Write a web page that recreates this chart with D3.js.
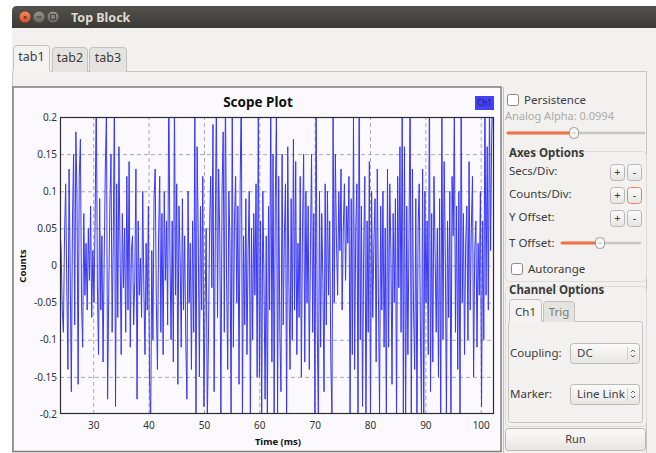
<!DOCTYPE html>
<html>
<head>
<meta charset="utf-8">
<script src="https://cdn.jsdelivr.net/npm/d3@7"></script>
<style>
  body { margin: 0; background: #fff; }
  svg { display: block; font-family: "Noto Sans", sans-serif; }
</style>
</head>
<body>
<div id="chart"></div>
<script>
// scope plot GNU Radio - finestra "Top Block" con pannello di controllo a destra

const titoloFinestra = 'Top Block';
const schede = ['tab1', 'tab2', 'tab3'];
const titolo = 'Scope Plot';
const etichettaX = 'Time (ms)';
const etichettaY = 'Counts';
const canali = ['Ch1'];
const tickX = [30, 40, 50, 60, 70, 80, 90, 100];
const tickY = [0.2, 0.15, 0.1, 0.05, 0, -0.05, -0.1, -0.15, -0.2];
const dominioX = [24.0, 102.4];
const dominioY = [-0.2, 0.2];
const tInizio = 24.0;      // ms, primo campione visibile
const passo = 0.2047;      // ms tra due campioni

// campioni letti a occhio dal grafico (valori oltre ±0.2 vengono tagliati)
const campioni = [
  0.05, 0.02, -0.06, -0.09, 0.04, 0.11, -0.03, -0.14, 0.13, -0.01, -0.17, 0.06, 0.15, -0.08, 0.18, 0.09,
  -0.16, 0.12, 0.17, -0.05, -0.11, 0.07, -0.04, 0.03, -0.06, 0.05, -0.02, 0.08, -0.07, 0.02, -0.05, 0.06,
  0.24, -0.03, -0.12, 0.09, -0.06, 0.04, -0.13, 0.01, 0.13, 0.21, -0.18, -0.04, 0.08, 0.15, -0.09, 0.03,
  0.23, -0.19, 0.11, -0.07, 0.16, 0.02, -0.12, 0.07, -0.03, 0.05, -0.09, 0.12, -0.06, 0.14, -0.11, 0.02,
  0.04, -0.08, -0.02, 0.13, -0.18, 0.06, -0.04, 0.01, -0.07, 0.10, -0.03, -0.12, 0.03, -0.06, 0.08, -0.15,
  -0.22, 0.02, -0.10, 0.09, 0.13, -0.05, -0.14, 0.04, 0.12, -0.09, 0.07, -0.12, 0.10, -0.02, 0.06, -0.08,
  0.25, 0.02, -0.10, 0.06, -0.13, 0.22, -0.04, 0.11, -0.16, 0.08, 0.01, -0.11, 0.09, -0.06, 0.04, -0.10,
  -0.18, 0.10, -0.05, 0.03, -0.14, 0.06, -0.09, 0.21, -0.21, 0.16, 0.04, -0.15, 0.08, -0.06, 0.12, -0.19,
  -0.06, 0.05, -0.21, -0.10, 0.05, 0.12, -0.03, 0.19, -0.17, 0.03, 0.23, -0.07, 0.13, 0.04, -0.20, 0.10,
  0.18, -0.09, 0.24, -0.02, -0.14, 0.10, 0.03, -0.21, 0.22, -0.11, 0.06, 0.12, -0.05, 0.08, -0.16, 0.11,
  0.24, -0.21, 0.04, -0.08, 0.09, -0.12, 0.02, 0.10, -0.20, 0.05, -0.10, 0.07, -0.04, 0.11, -0.15, 0.22,
  -0.15, 0.06, -0.21, 0.10, -0.02, -0.18, 0.04, -0.21, 0.08, -0.06, 0.23, -0.13, 0.15, -0.21, 0.09, 0.21,
  -0.20, 0.12, -0.09, -0.17, 0.15, -0.08, 0.04, 0.11, -0.21, 0.16, -0.03, -0.14, 0.09, -0.10, 0.17, -0.06,
  0.14, -0.12, 0.03, -0.07, 0.12, -0.15, 0.05, 0.15, -0.13, 0.10, -0.05, 0.08, -0.14, 0.02, 0.15, -0.09,
  0.07, -0.20, 0.23, -0.08, -0.21, 0.10, -0.11, 0.07, -0.02, -0.17, 0.11, -0.08, 0.10, -0.04, 0.06, -0.13,
  -0.20, 0.20, -0.05, 0.15, 0.03, -0.04, 0.10, 0.02, 0.13, -0.06, 0.05, 0.11, -0.02, 0.08, 0.03, 0.12,
  -0.20, 0.09, -0.12, 0.20, -0.14, 0.05, 0.11, -0.21, 0.24, -0.10, 0.08, -0.19, 0.02, 0.12, -0.21, 0.06,
  -0.09, 0.14, -0.21, 0.10, -0.07, 0.03, 0.09, -0.13, 0.13, -0.04, -0.20, 0.08, -0.06, 0.10, -0.11, 0.05,
  -0.21, 0.13, -0.11, 0.11, 0.02, -0.16, 0.07, -0.05, 0.09, -0.21, 0.12, -0.03, 0.16, -0.09, 0.23, -0.20,
  0.16, -0.22, 0.08, -0.12, 0.04, 0.24, -0.21, 0.13, -0.06, -0.14, 0.09, -0.21, 0.05, 0.11, -0.08, -0.20,
  0.13, -0.21, 0.10, -0.05, 0.06, -0.12, 0.25, -0.17, 0.07, -0.13, 0.12, 0.02, -0.09, 0.05, -0.15, 0.09,
  -0.21, 0.21, -0.10, 0.14, 0.02, -0.20, 0.06, -0.07, 0.10, -0.21, 0.12, 0.04, 0.21, -0.09, 0.08, -0.14,
  0.10, -0.21, 0.22, -0.05, 0.07, -0.12, 0.03, 0.08, -0.10, 0.14, -0.06, 0.05, 0.12, -0.15, 0.02, 0.06,
  -0.11, 0.03, -0.04, 0.10, -0.19, 0.06, -0.10, 0.24, -0.04, 0.16, -0.06, 0.22, 0.02, 0.18, 0.24, 0.12
];

// testi del pannello di controllo
const testoPersistenza = 'Persistence';
const testoAlpha = 'Analog Alpha: 0.0994';
const gruppoAssi = 'Axes Options';
const righeAssi = ['Secs/Div:', 'Counts/Div:', 'Y Offset:'];
const testoTOffset = 'T Offset:';
const testoAutorange = 'Autorange';
const gruppoCanali = 'Channel Options';
const schedeCanali = ['Ch1', 'Trig'];
const combo = [{ label: 'Coupling:', valore: 'DC' }, { label: 'Marker:', valore: 'Line Link' }];
const testoRun = 'Run';

const W = 656, H = 453;
const svg = d3.select('#chart').append('svg').attr('width', W).attr('height', H);
const defs = svg.append('defs');

const grad = (id, c1, c2) => {
    const g = defs.append('linearGradient').attr('id', id).attr('x1', 0).attr('x2', 0).attr('y1', 0).attr('y2', 1);
    g.append('stop').attr('offset', '0%').attr('stop-color', c1);
    g.append('stop').attr('offset', '100%').attr('stop-color', c2);
};
grad('barra', '#53524d', '#3b3a36');
grad('bottone', '#fbfbfa', '#e7e5e2');
grad('chiudi', '#f58a5e', '#df4f22');
grad('grigio', '#96948e', '#68665f');

// ---- finestra e barra del titolo ----
svg.append('rect').attr('x', 12).attr('y', 28).attr('width', W - 12).attr('height', H - 28).attr('fill', '#f2f1ef');
svg.append('path')
    .attr('d', `M12,28 V11 Q12,6 17,6 H${W} V28 Z`)
    .attr('fill', 'url(#barra)');
svg.append('circle').attr('cx', 25).attr('cy', 17).attr('r', 5.5).attr('fill', 'url(#chiudi)');
svg.append('text').attr('x', 25).attr('y', 19.5).attr('text-anchor', 'middle')
    .style('font-size', '7px').style('font-weight', 700).style('fill', '#5a2010').text('×');
[39, 53].forEach((cx, i) => {
    svg.append('circle').attr('cx', cx).attr('cy', 17).attr('r', 5.5).attr('fill', 'url(#grigio)');
    if (i === 0) {
        svg.append('line').attr('x1', cx - 2.5).attr('x2', cx + 2.5).attr('y1', 17).attr('y2', 17)
            .attr('stroke', '#3c3b37').attr('stroke-width', 1);
    } else {
        svg.append('rect').attr('x', cx - 2.5).attr('y', 14.5).attr('width', 5).attr('height', 5)
            .attr('fill', 'none').attr('stroke', '#3c3b37').attr('stroke-width', 0.8);
    }
});
svg.append('text').attr('x', 71).attr('y', 22)
    .style('font-size', '12.5px').style('font-weight', 700).style('fill', '#dfdbd2')
    .text(titoloFinestra);

// ---- schede in alto ----
svg.append('rect').attr('x', 12.5).attr('y', 71.5).attr('width', 634).attr('height', 400)
    .attr('fill', '#f2f1ef').attr('stroke', '#c9c6c1');
const posSchede = [[13, 50], [52, 88], [89, 127]];
schede.forEach((s, i) => {
    const [x1, x2] = posSchede[i];
    const attiva = i === 0;
    const y1 = attiva ? 45.5 : 47.5;
    svg.append('path')
        .attr('d', `M${x1 + 0.5},72 V${y1 + 3} Q${x1 + 0.5},${y1} ${x1 + 3.5},${y1} H${x2 - 3.5} Q${x2 - 0.5},${y1} ${x2 - 0.5},${y1 + 3} V72`)
        .attr('fill', attiva ? '#f4f3f1' : '#e5e3df')
        .attr('stroke', '#c4c1bc');
    svg.append('text').attr('x', (x1 + x2) / 2).attr('y', attiva ? 61 : 62).attr('text-anchor', 'middle')
        .style('font-size', '12.5px').style('fill', '#3c3c3c').text(s);
});
svg.append('line').attr('x1', 13).attr('x2', 50).attr('y1', 71.5).attr('y2', 71.5).attr('stroke', '#f4f3f1').attr('stroke-width', 1.5);

// ---- widget del grafico ----
svg.append('rect').attr('x', 13).attr('y', 87).attr('width', 488).attr('height', 364.5)
    .attr('fill', '#fbf9fd').attr('stroke', '#7f7d79').attr('stroke-width', 1.5);

const margin = { top: 117, left: 60, right: 494, bottom: 414 };
const x = d3.scaleLinear().domain(dominioX).range([margin.left, margin.right]);
const y = d3.scaleLinear().domain(dominioY).range([margin.bottom, margin.top]);

const plot = svg.append('g');

// griglia tratteggiata
plot.append('g')
    .attr('transform', `translate(0,${margin.bottom})`)
    .call(d3.axisBottom(x).tickValues(tickX).tickSize(-(margin.bottom - margin.top)).tickFormat(''))
    .call(g => g.select('.domain').remove())
    .call(g => g.selectAll('line').attr('stroke', '#a9a7ab').attr('stroke-dasharray', '4,3'));
plot.append('g')
    .attr('transform', `translate(${margin.left},0)`)
    .call(d3.axisLeft(y).tickValues(tickY.slice(1, -1)).tickSize(-(margin.right - margin.left)).tickFormat(''))
    .call(g => g.select('.domain').remove())
    .call(g => g.selectAll('line').attr('stroke', '#a9a7ab').attr('stroke-dasharray', '4,3'));

// traccia del segnale, tagliata al riquadro
defs.append('clipPath').attr('id', 'ritaglio').append('rect')
    .attr('x', margin.left).attr('y', margin.top)
    .attr('width', margin.right - margin.left).attr('height', margin.bottom - margin.top);
const linea = d3.line()
    .x((d, i) => x(tInizio + i * passo))
    .y(d => y(d));
plot.append('path')
    .datum(campioni)
    .attr('clip-path', 'url(#ritaglio)')
    .attr('d', linea)
    .attr('fill', 'none')
    .attr('stroke', '#3838f4')
    .attr('stroke-width', 1);

// cornice del riquadro
plot.append('rect')
    .attr('x', margin.left + 0.5).attr('y', margin.top + 0.5)
    .attr('width', margin.right - margin.left - 1).attr('height', margin.bottom - margin.top - 1)
    .attr('fill', 'none').attr('stroke', '#2c2c2c').attr('stroke-width', 1.2);

// etichette degli assi
plot.append('g')
    .attr('transform', `translate(${margin.left},0)`)
    .call(d3.axisLeft(y).tickValues(tickY).tickSize(0).tickPadding(3).tickFormat(d => String(d)))
    .call(g => g.select('.domain').remove())
    .call(g => g.selectAll('text').style('font-family', '"Noto Sans", sans-serif').style('font-size', '10px').attr('fill', '#333'));
plot.append('g')
    .attr('transform', `translate(0,${margin.bottom})`)
    .call(d3.axisBottom(x).tickValues(tickX).tickSize(0).tickPadding(8).tickFormat(d => String(d)))
    .call(g => g.select('.domain').remove())
    .call(g => g.selectAll('text').style('font-family', '"Noto Sans", sans-serif').style('font-size', '10px').attr('fill', '#333'));

svg.append('text').attr('x', 258).attr('y', 107).attr('text-anchor', 'middle')
    .style('font-size', '13.5px').style('font-weight', 700).style('fill', '#111').text(titolo);
svg.append('text').attr('x', 278).attr('y', 445).attr('text-anchor', 'middle')
    .style('font-size', '9.5px').style('font-weight', 700).style('fill', '#111').text(etichettaX);
svg.append('text').attr('transform', 'translate(26,266) rotate(-90)').attr('text-anchor', 'middle')
    .style('font-size', '9.5px').style('font-weight', 700).style('fill', '#111').text(etichettaY);

// legenda canale
canali.forEach((c, i) => {
    svg.append('rect').attr('x', 475).attr('y', 96 + i * 16).attr('width', 19).attr('height', 14).attr('fill', '#4343f3');
    svg.append('text').attr('x', 484.5).attr('y', 106 + i * 16).attr('text-anchor', 'middle')
        .style('font-size', '8px').style('fill', '#1b1b6a').text(c);
});

// ---- pannello di controllo ----
const pannello = svg.append('g');
pannello.append('line').attr('x1', 503.5).attr('x2', 503.5).attr('y1', 87).attr('y2', H).attr('stroke', '#c4c1bc');

const testo = (tx, ty, t, extra = {}) => pannello.append('text').attr('x', tx).attr('y', ty)
    .style('font-size', extra.size || '11.5px')
    .style('font-weight', extra.bold ? 700 : 400)
    .style('fill', extra.fill || '#3c3c3c')
    .attr('text-anchor', extra.anchor || 'start')
    .text(t);

const casella = (cx, cy) => pannello.append('rect').attr('x', cx + 0.5).attr('y', cy + 0.5)
    .attr('width', 11).attr('height', 11).attr('rx', 2)
    .attr('fill', '#fff').attr('stroke', '#8c8984');

const cursore = (x1, x2, xm, cy) => {
    pannello.append('line').attr('x1', x1).attr('x2', x2).attr('y1', cy).attr('y2', cy)
        .attr('stroke', '#cac7c2').attr('stroke-width', 2.5).attr('stroke-linecap', 'round');
    pannello.append('line').attr('x1', x1).attr('x2', xm).attr('y1', cy).attr('y2', cy)
        .attr('stroke', '#ee7446').attr('stroke-width', 3).attr('stroke-linecap', 'round');
    pannello.append('rect').attr('x', xm - 4.5).attr('y', cy - 5.5).attr('width', 9).attr('height', 11).attr('rx', 4)
        .attr('fill', '#f6f6f5').attr('stroke', '#9d9a95');
    pannello.append('line').attr('x1', xm - 1.5).attr('x2', xm + 1.5).attr('y1', cy).attr('y2', cy).attr('stroke', '#b5b2ad');
};

const bottone = (bx, by, bw, bh, t, acceso) => {
    pannello.append('rect').attr('x', bx + 0.5).attr('y', by + 0.5).attr('width', bw).attr('height', bh).attr('rx', 3)
        .attr('fill', 'url(#bottone)').attr('stroke', acceso ? '#e5845b' : '#b9b6b1');
    testo(bx + bw / 2 + 0.5, by + bh / 2 + 4, t, { anchor: 'middle', size: '11px' });
};

const gruppo = (gx, gy, gw, gh) => pannello.append('rect').attr('x', gx + 0.5).attr('y', gy + 0.5)
    .attr('width', gw).attr('height', gh).attr('rx', 4)
    .attr('fill', 'none').attr('stroke', '#dedbd6');

casella(507, 94);
testo(524, 104, testoPersistenza);
testo(505, 120, testoAlpha, { fill: '#adaaa5', size: '11px' });
cursore(508, 644, 574, 133);

gruppo(505, 151, 141, 130);
testo(509, 157, gruppoAssi, { bold: true, size: '11.5px' });
righeAssi.forEach((r, i) => {
    const ry = 175 + i * 23;
    testo(509, ry, r);
    bottone(610, ry - 11, 14, 16, '+', false);
    bottone(627, ry - 11, 14, 16, '-', i === 1);
});
testo(509, 247, testoTOffset);
cursore(562, 640, 600, 243);
casella(511, 263);
testo(528, 273, testoAutorange);

gruppo(505, 286, 141, 140);
testo(509, 294, gruppoCanali, { bold: true, size: '11.5px' });
pannello.append('rect').attr('x', 508.5).attr('y', 321.5).attr('width', 134).attr('height', 101).attr('rx', 2)
    .attr('fill', '#f2f1ef').attr('stroke', '#c9c6c1');
const posSchedeCanali = [[509, 542], [543, 575]];
schedeCanali.forEach((s, i) => {
    const [x1, x2] = posSchedeCanali[i];
    const attiva = i === 0;
    const y1 = attiva ? 299.5 : 301.5;
    pannello.append('path')
        .attr('d', `M${x1 + 0.5},322 V${y1 + 3} Q${x1 + 0.5},${y1} ${x1 + 3.5},${y1} H${x2 - 3.5} Q${x2 - 0.5},${y1} ${x2 - 0.5},${y1 + 3} V322`)
        .attr('fill', attiva ? '#f4f3f1' : '#e5e3df')
        .attr('stroke', '#c4c1bc');
    testo((x1 + x2) / 2, 316, s, { anchor: 'middle', fill: attiva ? '#3c3c3c' : '#7a7874' });
});
pannello.append('line').attr('x1', 509.5).attr('x2', 541.5).attr('y1', 322).attr('y2', 322).attr('stroke', '#f4f3f1').attr('stroke-width', 1.5);

combo.forEach((c, i) => {
    const cy = 343 + i * 41;
    testo(510, cy + 14, c.label);
    pannello.append('rect').attr('x', 570.5).attr('y', cy + 0.5).attr('width', 69).attr('height', 20).attr('rx', 3)
        .attr('fill', 'url(#bottone)').attr('stroke', '#bcb9b4');
    pannello.append('line').attr('x1', 627.5).attr('x2', 627.5).attr('y1', cy + 4).attr('y2', cy + 17).attr('stroke', '#d3d0cb');
    pannello.append('path')
        .attr('d', `M631,${cy + 9} L633,${cy + 7} L635,${cy + 9} M631,${cy + 12} L633,${cy + 14} L635,${cy + 12}`)
        .attr('fill', 'none').attr('stroke', '#555').attr('stroke-width', 0.9);
    const cp = defs.append('clipPath').attr('id', 'combo' + i);
    cp.append('rect').attr('x', 571).attr('y', cy).attr('width', 55).attr('height', 20);
    testo(577, cy + 14, c.valore).attr('clip-path', `url(#combo${i})`);
});

bottone(505, 428, 140, 22, testoRun, false);
</script>
</body>
</html>
